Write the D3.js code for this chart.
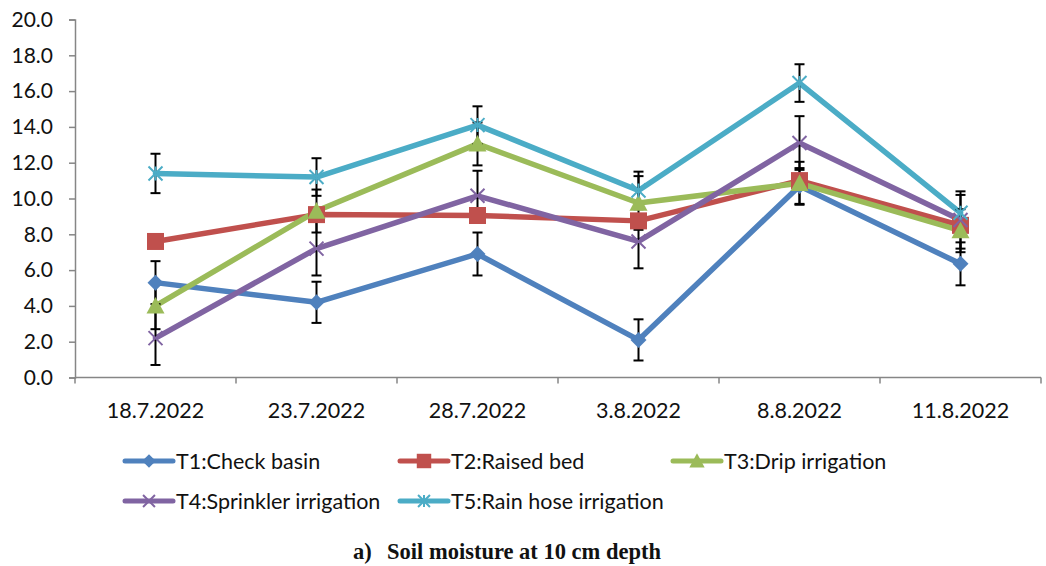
<!DOCTYPE html>
<html>
<head>
<meta charset="utf-8">
<script src="https://cdn.jsdelivr.net/npm/d3@7"></script>
<style>
  body { margin: 0; background: #fff; }
  svg text { font-family: Lato, "Open Sans", sans-serif; fill: #111; }
</style>
</head>
<body>
<svg id="chart" width="1046" height="566"></svg>
<script>
// sampling dates
const dates = ['18.7.2022', '23.7.2022', '28.7.2022', '3.8.2022', '8.8.2022', '11.8.2022'];

// soil moisture (%) per treatment
const t1 = [5.3, 4.2, 6.9, 2.1, 10.7, 6.35];
const t2 = [7.6, 9.1, 9.05, 8.75, 11.0, 8.5];
const t3 = [4.0, 9.3, 13.05, 9.75, 10.85, 8.2];
const t4 = [2.2, 7.2, 10.15, 7.6, 13.1, 8.8];
const t5 = [11.4, 11.2, 14.1, 10.45, 16.45, 9.2];

// standard error bars
const t1Err = [1.2, 1.15, 1.2, 1.15, 1.0, 1.2];
const t2Err = [0.25, 0.25, 0.25, 0.25, 0.25, 0.25];
const t3Err = [1.3, 1.2, 1.2, 1.5, 1.2, 1.2];
const t4Err = [1.5, 1.5, 1.4, 1.5, 1.5, 1.6];
const t5Err = [1.1, 1.05, 1.05, 1.05, 1.05, 1.0];

const seriesNames = ['T1:Check basin', 'T2:Raised bed', 'T3:Drip irrigation',
                     'T4:Sprinkler irrigation', 'T5:Rain hose irrigation'];
const yTicks = [0, 2, 4, 6, 8, 10, 12, 14, 16, 18, 20];

const colors = ['#4F81BD', '#C0504D', '#9BBB59', '#8064A2', '#4BACC6'];
const shapes = ['diamond', 'square', 'triangle', 'x', 'star'];

const series = [t1, t2, t3, t4, t5].map((vals, i) => ({
    name: seriesNames[i],
    color: colors[i],
    shape: shapes[i],
    points: vals.map((v, j) => ({ date: dates[j], value: v, err: [t1Err, t2Err, t3Err, t4Err, t5Err][i][j] }))
}));

const svg = d3.select('#chart');

const plotLeft = 75, plotRight = 1041, plotTop = 19.5, plotBottom = 377.5;

const x = d3.scaleBand().domain(dates).range([plotLeft, plotRight]);
const y = d3.scaleLinear().domain([0, 20]).range([plotBottom, plotTop]);

// y axis
const yAxis = svg.append('g')
    .attr('transform', `translate(${plotLeft},0)`)
    .call(d3.axisLeft(y).tickValues(yTicks).tickFormat(d3.format('.1f')).tickSizeOuter(0).tickSize(6).tickPadding(16));
yAxis.select('.domain').attr('stroke', '#868686').attr('stroke-width', 1.5);
yAxis.selectAll('.tick line').attr('stroke', '#868686').attr('stroke-width', 1.5);
yAxis.selectAll('.tick text').attr('font-size', 21).style('fill', '#111');

// x axis: ticks sit on category boundaries
const xg = svg.append('g').attr('transform', `translate(0,${plotBottom})`);
xg.append('line')
    .attr('x1', plotLeft).attr('x2', plotRight)
    .attr('stroke', '#868686').attr('stroke-width', 1.5);
const bounds = [...dates.map(d => x(d)), plotRight];
xg.selectAll('line.tk')
    .data(bounds)
    .enter()
    .append('line')
    .attr('class', 'tk')
    .attr('x1', d => d).attr('x2', d => d)
    .attr('y1', 0).attr('y2', 6)
    .attr('stroke', '#868686').attr('stroke-width', 1.5);
xg.selectAll('text')
    .data(dates)
    .enter()
    .append('text')
    .attr('x', d => x(d) + x.bandwidth() / 2)
    .attr('y', 40)
    .attr('text-anchor', 'middle')
    .attr('font-size', 21.5)
    .text(d => d);

const cx = d => x(d.date) + x.bandwidth() / 2;

// lines
const line = d3.line().x(cx).y(d => y(d.value));
svg.append('g').selectAll('path')
    .data(series)
    .enter()
    .append('path')
    .attr('d', d => line(d.points))
    .attr('fill', 'none')
    .attr('stroke', d => d.color)
    .attr('stroke-width', 5.5)
    .attr('stroke-linejoin', 'round')
    .attr('stroke-linecap', 'round');

// error bars
const eb = svg.append('g');
series.forEach(s => {
    s.points.forEach(p => {
        const px = cx(p);
        const y1 = y(p.value + p.err), y2 = y(p.value - p.err);
        eb.append('line').attr('x1', px).attr('x2', px).attr('y1', y1).attr('y2', y2)
            .attr('stroke', '#000').attr('stroke-width', 2);
        [y1, y2].forEach(yy => {
            eb.append('line').attr('x1', px - 5).attr('x2', px + 5).attr('y1', yy).attr('y2', yy)
                .attr('stroke', '#000').attr('stroke-width', 2);
        });
    });
});

// marker drawing
function drawMarker(g, shape, color, px, py, scale) {
    const k = scale || 1;
    if (shape === 'diamond') {
        const r = 8 * k;
        g.append('path').attr('d', `M${px},${py - r}L${px + r},${py}L${px},${py + r}L${px - r},${py}Z`)
            .attr('fill', color);
    } else if (shape === 'square') {
        const r = 8.5 * k;
        g.append('rect').attr('x', px - r).attr('y', py - r).attr('width', 2 * r).attr('height', 2 * r)
            .attr('fill', color);
    } else if (shape === 'triangle') {
        const r = 9 * k;
        g.append('path').attr('d', `M${px},${py - r}L${px + r},${py + r * 0.85}L${px - r},${py + r * 0.85}Z`)
            .attr('fill', color);
    } else if (shape === 'x') {
        const r = 7 * k;
        g.append('path').attr('d', `M${px - r},${py - r}L${px + r},${py + r}M${px - r},${py + r}L${px + r},${py - r}`)
            .attr('stroke', color).attr('stroke-width', 2);
    } else if (shape === 'star') {
        const r = 7 * k;
        g.append('path').attr('d', `M${px - r},${py - r}L${px + r},${py + r}M${px - r},${py + r}L${px + r},${py - r}M${px},${py - r}L${px},${py + r}`)
            .attr('stroke', color).attr('stroke-width', 2);
    }
}

const mk = svg.append('g');
series.forEach(s => {
    s.points.forEach(p => drawMarker(mk, s.shape, s.color, cx(p), y(p.value)));
});

// legend
const legendPos = [[125, 461], [400, 461], [673, 461], [125, 501], [400, 501]];
const lg = svg.append('g');
series.forEach((s, i) => {
    const [lx, ly] = legendPos[i];
    lg.append('line').attr('x1', lx).attr('x2', lx + 48).attr('y1', ly).attr('y2', ly)
        .attr('stroke', s.color).attr('stroke-width', 5).attr('stroke-linecap', 'round');
    drawMarker(lg, s.shape, s.color, lx + 24, ly, 0.85);
    lg.append('text').attr('x', lx + 51).attr('y', ly + 7.5).attr('font-size', 21.5).text(s.name);
});

// caption
const cap = svg.append('g').attr('font-weight', 'bold').attr('font-size', 22.5);
cap.append('text').attr('x', 353).attr('y', 559).style('font-family', '"Liberation Serif", serif').text('a)');
cap.append('text').attr('x', 387).attr('y', 559).style('font-family', '"Liberation Serif", serif').text('Soil moisture at 10 cm depth');
</script>
</body>
</html>
